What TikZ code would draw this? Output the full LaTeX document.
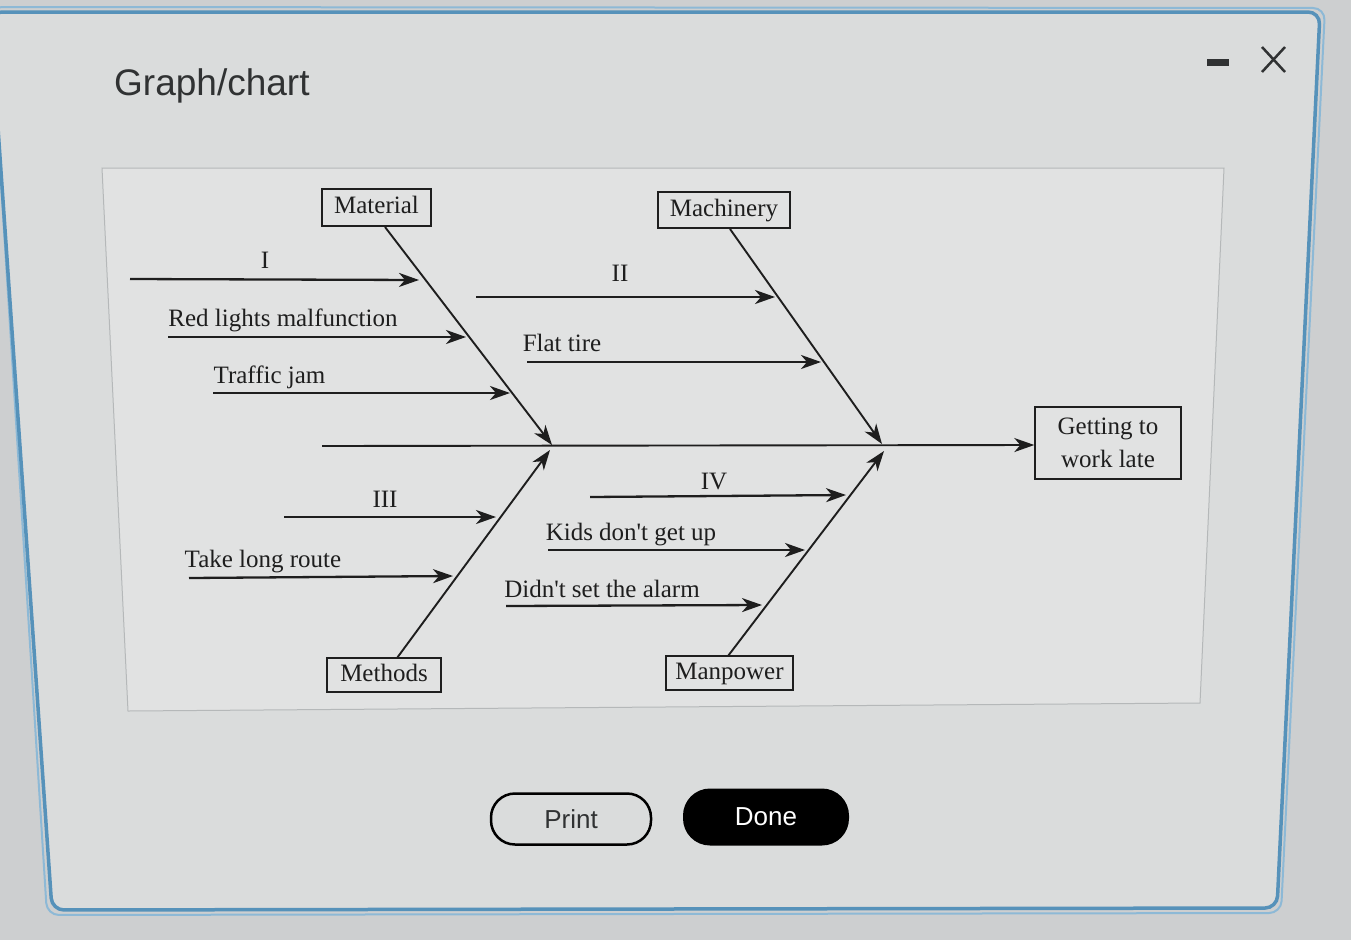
\documentclass[tikz,border=0pt]{standalone}
\usepackage{fontspec}
\setmainfont{Liberation Serif}[Ligatures=TeXOff]
\newfontfamily\uifont{Liberation Sans}
\usetikzlibrary{arrows.meta,calc}
\definecolor{pagebg}{HTML}{CDCFD0}
\definecolor{dialogbg}{HTML}{DADCDC}
\definecolor{panelbg}{HTML}{E1E2E2}
\definecolor{panelline}{HTML}{B5B8B9}
\definecolor{frameblue}{HTML}{5692BA}
\definecolor{framelight}{HTML}{8DB9D6}
\definecolor{ink}{HTML}{1E1E1E}
\definecolor{uiink}{HTML}{303233}
\tikzset{
  lbl/.style={font=\fontsize{25}{29}\selectfont, text=ink, inner sep=0pt, anchor=base},
  catbox/.style={draw=ink, line width=1.4pt, fill=panelbg, font=\fontsize{25}{29}\selectfont, text=ink, inner sep=0pt, text height=17pt, text depth=5pt},
  bone/.style={draw=ink, line width=1.9pt, -{Stealth[length=20pt,width=14pt,inset=6pt]}},
  sub/.style={draw=ink, line width=2.3pt, -{Stealth[length=20pt,width=14pt,inset=6pt]}},
}
\begin{document}
\begin{tikzpicture}[x=1pt,y=-1pt]
\useasboundingbox (0,0) rectangle (1351,940);
\fill[pagebg] (0,0) rectangle (1351,940);
% dialog
\fill[dialogbg, rounded corners=12pt] (-10,12) -- (1320,12) -- (1277,908) -- (52,910) -- cycle;
\draw[framelight, line width=2pt, rounded corners=12pt] (-10,7) -- (1325,8) -- (1281,913) -- (47,915) -- cycle;
\draw[frameblue, line width=3.5pt, rounded corners=12pt] (-10,12) -- (1320,12) -- (1277,908) -- (52,910) -- cycle;
% title and window controls
\node[font=\uifont\fontsize{37}{44}\selectfont, text=uiink, anchor=base west, inner sep=0pt] (title) at (114,95) {Graph/chart};
\node[fill=uiink, minimum width=22pt, minimum height=7pt, inner sep=0pt] (minbtn) at (1218,62) {};
\coordinate (xa) at (1262,47); \coordinate (xb) at (1285,72);
\coordinate (xc) at (1285,47); \coordinate (xd) at (1262,72);
\draw[uiink, line width=2.5pt] (xa) -- (xb) (xc) -- (xd);
% chart panel
\fill[panelbg] (102,168) -- (1224,168) -- (1200,703) -- (128,711) -- cycle;
\draw[panelline, line width=1pt] (102,168) -- (1224,168) -- (1200,703) -- (128,711) -- cycle;
% category boxes and effect
\node[catbox, minimum width=109pt, minimum height=37pt] (mat) at (376.5,207.5) {Material};
\node[catbox, minimum width=132pt, minimum height=36pt] (mach) at (724,210) {Machinery};
\node[catbox, minimum width=114pt, minimum height=34pt] (meth) at (384,675) {Methods};
\node[catbox, minimum width=127pt, minimum height=34pt] (man) at (729.5,673) {Manpower};
\node[draw=ink, line width=1.4pt, fill=panelbg, minimum width=146pt, minimum height=72pt, align=center, font=\fontsize{25}{33}\selectfont, text=ink, inner sep=0pt] (eff) at (1108,443) {Getting to\\work late};
% spine
\coordinate (spS) at (322,446);
\coordinate (j1) at (552,445);
\coordinate (j2) at (882,444);
\coordinate (j3) at (550,450);
\coordinate (j4) at (884,451);
\draw[bone] (spS) -- (eff.west |- 0,445);
% bones
\coordinate (matB) at (385,227);
\coordinate (machB) at (730,229);
\coordinate (methT) at (397,658);
\coordinate (manT) at (728,656);
\draw[bone] (matB) -- (j1);
\draw[bone] (machB) -- (j2);
\draw[bone] (methT) -- (j3);
\draw[bone] (manT) -- (j4);
% sub-causes: Material
\coordinate (s1a) at (130,279); \coordinate (s1b) at (419,280);
\coordinate (s2a) at (168,337); \coordinate (s2b) at (466,337);
\coordinate (s3a) at (213,393); \coordinate (s3b) at (510,393);
\draw[sub] (s1a) -- (s1b);
\draw[sub] (s2a) -- (s2b);
\draw[sub] (s3a) -- (s3b);
\node[lbl] (l1) at (265,268) {I};
\node[lbl] (l2) at (283,326) {Red lights malfunction};
\node[lbl] (l3) at (269.5,383) {Traffic jam};
% Machinery
\coordinate (s4a) at (476,297); \coordinate (s4b) at (775,297);
\coordinate (s5a) at (527,362); \coordinate (s5b) at (821,362);
\draw[sub] (s4a) -- (s4b);
\draw[sub] (s5a) -- (s5b);
\node[lbl] (l4) at (620,281) {II};
\node[lbl] (l5) at (562,351) {Flat tire};
% Methods
\coordinate (s6a) at (284,517); \coordinate (s6b) at (496,517);
\coordinate (s7a) at (189,578); \coordinate (s7b) at (453,576);
\draw[sub] (s6a) -- (s6b);
\draw[sub] (s7a) -- (s7b);
\node[lbl] (l6) at (385,507) {III};
\node[lbl] (l7) at (263,567) {Take long route};
% Manpower
\coordinate (s8a) at (590,497); \coordinate (s8b) at (846,495);
\coordinate (s9a) at (548,550); \coordinate (s9b) at (805,550);
\coordinate (s10a) at (506,606); \coordinate (s10b) at (762,605);
\draw[sub] (s8a) -- (s8b);
\draw[sub] (s9a) -- (s9b);
\draw[sub] (s10a) -- (s10b);
\node[lbl] (l8) at (714,489) {IV};
\node[lbl] (l9) at (631,540) {Kids don't get up};
\node[lbl] (l10) at (602,597) {Didn't set the alarm};
% buttons
\node[draw=black, line width=2.5pt, fill=dialogbg, rounded corners=24pt, minimum width=160pt, minimum height=51pt, font=\uifont\fontsize{26}{30}\selectfont, text=uiink] (print) at (571,819) {Print};
\node[fill=black, rounded corners=27pt, minimum width=166pt, minimum height=57pt, font=\uifont\fontsize{26}{30}\selectfont, text=white] (done) at (766,817) {Done};
\end{tikzpicture}
\end{document}
